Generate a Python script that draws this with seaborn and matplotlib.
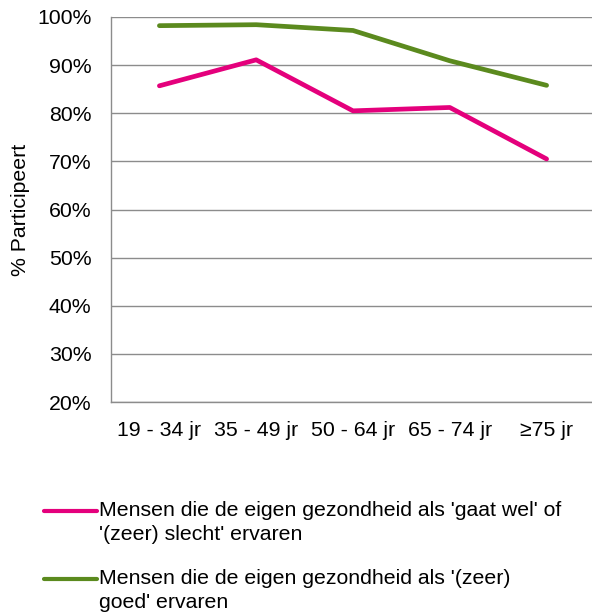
import matplotlib
matplotlib.use("Agg")
import matplotlib.pyplot as plt
import seaborn as sns
import pandas as pd
import numpy as np
from matplotlib.ticker import FixedLocator, FuncFormatter
from matplotlib.legend_handler import HandlerLine2D

categories = ["19 - 34 jr", "35 - 49 jr", "50 - 64 jr", "65 - 74 jr", "\u226575 jr"]
slecht = [85.7, 91.1, 80.5, 81.2, 70.5]
goed = [98.2, 98.4, 97.2, 90.9, 85.8]
series_names = [
    "Mensen die de eigen gezondheid als 'gaat wel' of\n'(zeer) slecht' ervaren",
    "Mensen die de eigen gezondheid als '(zeer)\ngoed' ervaren",
]
colors = ["#E4007C", "#5B8A1E"]

df = pd.DataFrame({
    "cat": categories * 2,
    "val": slecht + goed,
    "serie": [series_names[0]] * 5 + [series_names[1]] * 5,
})

sns.set_style("white")
plt.rcParams["font.family"] = ["Liberation Sans", "DejaVu Sans"]
plt.rcParams["text.color"] = "black"
plt.rcParams["xtick.labelcolor"] = "black"
plt.rcParams["ytick.labelcolor"] = "black"
plt.rcParams["axes.labelcolor"] = "black"
FS = 15.3


class TopLineHandler(HandlerLine2D):
    def create_artists(self, legend, orig_handle, xdescent, ydescent, width, height,
                       fontsize, trans):
        artists = super().create_artists(legend, orig_handle, xdescent, ydescent,
                                         width, height, fontsize, trans)
        for a in artists:
            y = np.asarray(a.get_ydata(), dtype=float)
            a.set_ydata(y + height * 0.78)
        return artists


fig = plt.figure(figsize=(5.92, 6.15), dpi=100)
ax = fig.add_axes([111 / 592, 1 - 402 / 615, (595 - 111) / 592, (402 - 17) / 615])

sns.lineplot(data=df, x="cat", y="val", hue="serie", palette=colors, linewidth=3.4,
             ax=ax, sort=False, legend=True)

ax.set_ylim(20, 100)
ax.set_xlim(-0.5, 4.5)
ax.yaxis.set_major_locator(FixedLocator(list(range(20, 101, 10))))
ax.yaxis.set_major_formatter(FuncFormatter(lambda v, p: f"{int(v)}%"))
ax.grid(axis="y", color="#8c8c8c", linewidth=1.0)
ax.set_axisbelow(True)
for s in ["top", "right"]:
    ax.spines[s].set_visible(False)
for s in ["left", "bottom"]:
    ax.spines[s].set_color("#8c8c8c")
    ax.spines[s].set_linewidth(1.0)

ax.set_xticks([-0.5, 0.5, 1.5, 2.5, 3.5])
ax.set_xticklabels([])
ax.set_xticks([0, 1, 2, 3, 4], minor=True)
ax.set_xticklabels(categories, minor=True)
ax.tick_params(axis="x", which="major", length=5, color="#8c8c8c", width=1, direction="out")
ax.tick_params(axis="x", which="minor", length=0, pad=14, labelsize=FS, labelcolor="black")
ax.tick_params(axis="y", length=5, color="#8c8c8c", width=1, direction="out", labelsize=FS,
               pad=9, labelcolor="black")
ax.set_xlabel("")
ax.set_ylabel("% Participeert", fontsize=FS, labelpad=5, color="black")

handles, labels = ax.get_legend_handles_labels()
ax.get_legend().remove()
leg = fig.legend(handles, labels, loc="upper left", bbox_to_anchor=(35 / 592, 1 - 493 / 615),
                 frameon=False, fontsize=FS, handlelength=2.5, handletextpad=0.1,
                 labelspacing=1.2, borderaxespad=0,
                 handler_map={matplotlib.lines.Line2D: TopLineHandler()})
for t in leg.get_texts():
    t.set_linespacing(1.3)
    t.set_color("black")
for h in leg.get_lines():
    h.set_linewidth(3.0)

fig.savefig("out.png", dpi=100)
